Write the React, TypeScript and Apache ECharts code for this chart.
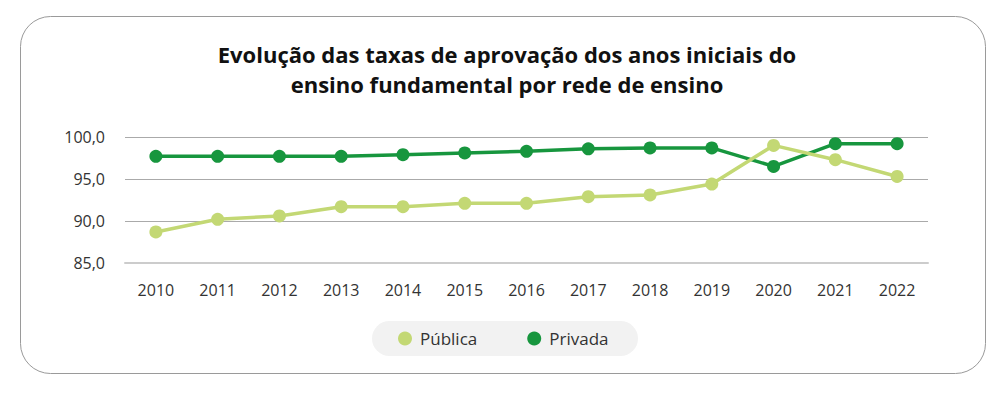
import React, { useEffect, useRef } from "react";
import * as echarts from "echarts";

const years = ["2010", "2011", "2012", "2013", "2014", "2015", "2016", "2017", "2018", "2019", "2020", "2021", "2022"];
const publica = [88.7, 90.2, 90.6, 91.7, 91.7, 92.1, 92.1, 92.9, 93.1, 94.4, 99.0, 97.3, 95.3];
const privada = [97.7, 97.7, 97.7, 97.7, 97.9, 98.1, 98.3, 98.6, 98.7, 98.7, 96.5, 99.2, 99.2];
const titleText = "Evolução das taxas de aprovação dos anos iniciais do\nensino fundamental por rede de ensino";
const seriesNames = ["Pública", "Privada"];

const FONT = "'Open Sans', sans-serif";

export default function App() {
  const ref = useRef<HTMLDivElement>(null);
  useEffect(() => {
    if (!ref.current) return;
    const chart = echarts.init(ref.current, null, { renderer: "svg" });
    chart.setOption({
      animation: false,
      textStyle: { fontFamily: FONT },
      graphic: [
        {
          type: "rect",
          shape: { x: 20.5, y: 16.5, width: 965, height: 357, r: 30 },
          style: { fill: "#fff", stroke: "#9a9a9a", lineWidth: 1 },
          z: -10,
        },
        {
          type: "rect",
          shape: { x: 372, y: 321, width: 266, height: 35, r: 17.5 },
          style: { fill: "#f2f2f2" },
          z: -5,
        },
      ],
      title: {
        text: titleText,
        left: 502,
        top: 34,
        textAlign: "center",
        textStyle: {
          fontFamily: FONT,
          fontWeight: "bold",
          fontSize: 22,
          lineHeight: 30,
          color: "#111",
        },
      },
      legend: {
        data: seriesNames,
        left: 393,
        top: 325,
        icon: "circle",
        itemWidth: 14,
        itemHeight: 14,
        itemGap: 50,
        textStyle: { fontFamily: FONT, fontSize: 17, color: "#333", padding: [0, 0, 0, 3] },
      },
      grid: { left: 125, right: 72, top: 137, bottom: 134 },
      xAxis: {
        type: "category",
        data: years,
        boundaryGap: true,
        axisLine: { show: true, lineStyle: { color: "#cccccc", width: 2 } },
        axisTick: { show: false },
        axisLabel: { fontFamily: FONT, fontSize: 16, color: "#333", margin: 19 },
      },
      yAxis: {
        type: "value",
        min: 85,
        max: 100,
        interval: 5,
        axisLine: { show: false },
        axisTick: { show: false },
        splitLine: { lineStyle: { color: "#aaaaaa", width: 1 } },
        axisLabel: {
          fontFamily: FONT,
          fontSize: 16,
          color: "#333",
          margin: 20,
          formatter: (v: number) => v.toFixed(1).replace(".", ","),
        },
      },
      series: [
        {
          name: seriesNames[0],
          type: "line",
          data: publica,
          symbol: "circle",
          symbolSize: 13,
          lineStyle: { width: 3.5, color: "#c3d874" },
          itemStyle: { color: "#c3d874" },
          z: 3,
        },
        {
          name: seriesNames[1],
          type: "line",
          data: privada,
          symbol: "circle",
          symbolSize: 13,
          lineStyle: { width: 3.5, color: "#17963e" },
          itemStyle: { color: "#17963e" },
          z: 2,
        },
      ],
    });
    return () => chart.dispose();
  }, []);
  return (
    <div
      ref={ref}
      style={{ position: "fixed", left: 0, top: 0, width: 1000, height: 397, background: "#fff" }}
    />
  );
}
